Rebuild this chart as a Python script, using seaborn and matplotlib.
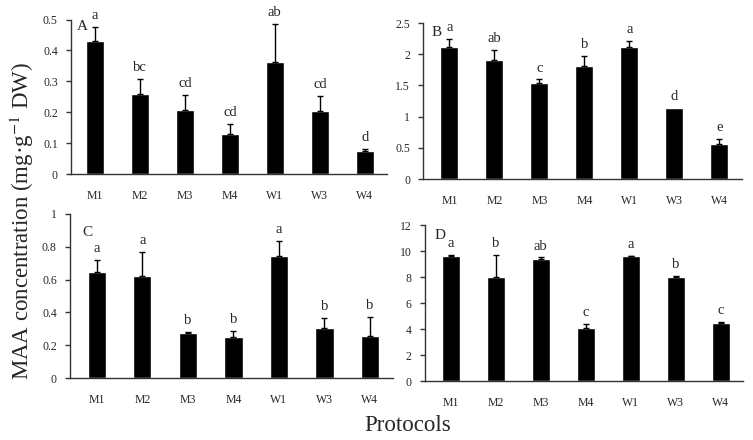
import matplotlib
matplotlib.use("Agg")
import matplotlib.pyplot as plt
import seaborn as sns
import pandas as pd
import numpy as np
from matplotlib.ticker import FuncFormatter

categories = ["M1", "M2", "M3", "M4", "W1", "W3", "W4"]

mean_A = [0.431, 0.258, 0.208, 0.131, 0.361, 0.205, 0.075]
err_A = [0.045, 0.051, 0.048, 0.031, 0.126, 0.047, 0.006]
letters_A = ["a", "bc", "cd", "cd", "ab", "cd", "d"]

mean_B = [2.12, 1.91, 1.545, 1.81, 2.11, 1.145, 0.567]
err_B = [0.12, 0.155, 0.05, 0.16, 0.10, 0.0, 0.07]
letters_B = ["a", "ab", "c", "b", "a", "d", "e"]

mean_C = [0.645, 0.624, 0.276, 0.249, 0.745, 0.302, 0.255]
err_C = [0.075, 0.145, 0.006, 0.039, 0.09, 0.065, 0.118]
letters_C = ["a", "a", "b", "b", "a", "b", "b"]

mean_D = [9.61, 8.0, 9.36, 4.05, 9.61, 8.0, 4.46]
err_D = [0.06, 1.67, 0.15, 0.31, 0.04, 0.05, 0.08]
letters_D = ["a", "b", "ab", "c", "a", "b", "c"]

panels = [
    ("A", mean_A, err_A, letters_A, [0, 0.1, 0.2, 0.3, 0.4, 0.5]),
    ("B", mean_B, err_B, letters_B, [0, 0.5, 1, 1.5, 2, 2.5]),
    ("C", mean_C, err_C, letters_C, [0, 0.2, 0.4, 0.6, 0.8, 1.0]),
    ("D", mean_D, err_D, letters_D, [0, 2, 4, 6, 8, 10, 12]),
]

sns.set_style("white")
plt.rcParams["font.family"] = ["Liberation Serif", "DejaVu Serif"]
plt.rcParams["mathtext.fontset"] = "stix"

W, H = 753, 440
fig = plt.figure(figsize=(W / 100, H / 100), dpi=100)

# (left px, right px, bottom px, top px, x-limit left)
frames = [
    (71, 387.3, 174, 19.5, -0.533),
    (423.3, 742, 179, 23, -0.58),
    (70, 392.7, 378, 214, -0.59),
    (425, 743, 381, 225, -0.57),
]
label_pos = [(82, 27), (437, 32), (87, 232), (440, 235)]

for (name, means, errs, letters, ticks), fr, lp in zip(panels, frames, label_pos):
    l, r, b, t, xl = fr
    ax = fig.add_axes((l / W, 1 - b / H, (r - l) / W, (b - t) / H))
    df = pd.DataFrame({"Protocol": categories, "Value": means})
    sns.barplot(data=df, x="Protocol", y="Value", color="black", width=0.4,
                errorbar=None, ax=ax, saturation=1)
    x = np.arange(len(categories))
    m_arr = np.array(means)
    e_arr = np.array(errs)
    has = e_arr > 0
    ax.errorbar(x[has], m_arr[has], yerr=[np.zeros(has.sum()), e_arr[has]],
                fmt="none", ecolor="black", elinewidth=1.0, capsize=2.5,
                capthick=1.0)
    for xi, m, e, lab in zip(x, means, errs, letters):
        ax.annotate(lab, (xi, m + e), xytext=(0, 3.5), textcoords="offset points",
                    ha="center", va="bottom", fontsize=10.5)
    ax.set_xlim(xl, len(categories) - 0.5)
    ax.set_ylim(ticks[0], ticks[-1])
    ax.set_yticks(ticks)
    ax.yaxis.set_major_formatter(FuncFormatter(lambda v, p: "%g" % v))
    ax.set_xlabel("")
    ax.set_ylabel("")
    for s in ["top", "right"]:
        ax.spines[s].set_visible(False)
    for s in ["left", "bottom"]:
        ax.spines[s].set_color("#333333")
        ax.spines[s].set_linewidth(1.0)
    ax.tick_params(axis="y", which="both", left=True, length=3.5, width=1.0,
                   color="#333333", labelsize=8.5, pad=6)
    ax.tick_params(axis="x", bottom=False, labelsize=8.5, pad=8)
    fig.text(lp[0] / W, 1 - lp[1] / H, name, fontsize=11, ha="center", va="center")

fig.text(22 / W, 1 - 221 / H, "MAA concentration (mg·g$^{-1}$ DW)", rotation=90,
         ha="center", va="center", fontsize=16.5)
fig.text(408 / W, 1 - 425 / H, "Protocols", ha="center",
         va="center", fontsize=16.5)

fig.savefig("out.png", dpi=100)
